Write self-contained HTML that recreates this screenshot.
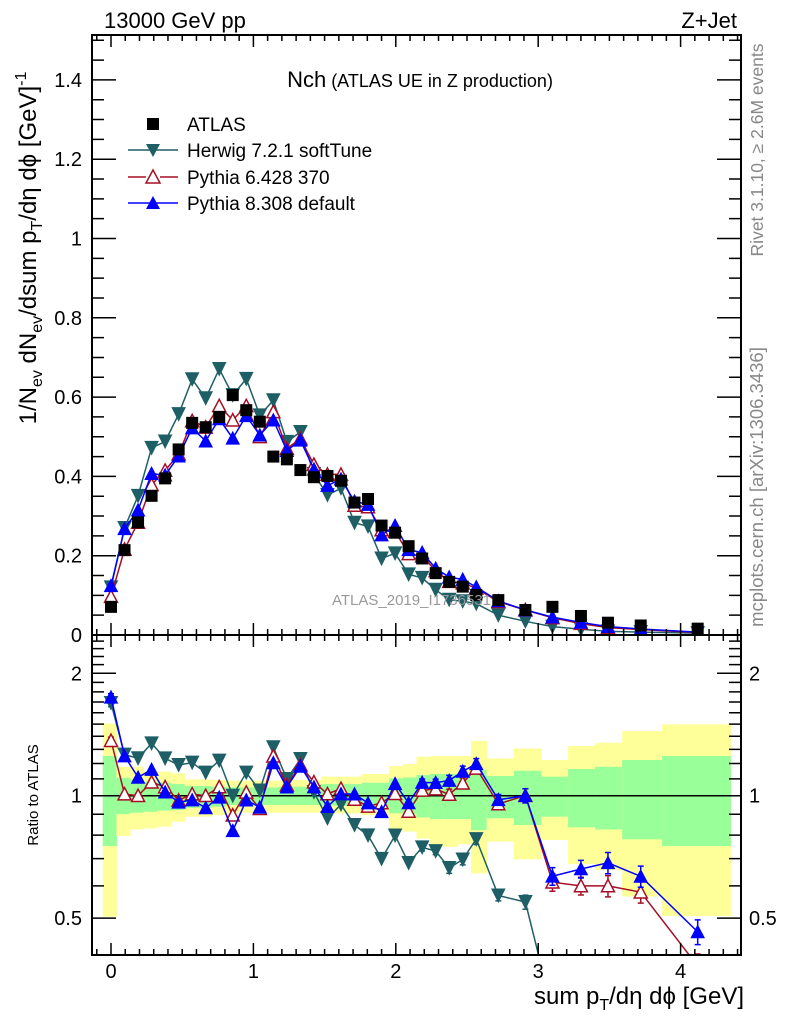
<!DOCTYPE html>
<html><head><meta charset="utf-8"><style>
body{margin:0;background:#fff;}
svg{display:block;font-family:"Liberation Sans",sans-serif;}
</style></head><body>
<svg id="c" width="786" height="1024" viewBox="0 0 786 1024">
<defs>
<clipPath id="cm"><rect x="92" y="35" width="649" height="600"/></clipPath>
<clipPath id="cr"><rect x="92" y="635" width="649" height="320"/></clipPath>
</defs>
<g id="bands" clip-path="url(#cr)"></g>
<g id="mainG" clip-path="url(#cm)"></g>
<g id="ratioG" clip-path="url(#cr)"></g>
<g id="axes"></g>
<text x="104" y="28" font-size="22">13000 GeV pp</text>
<text x="737" y="28" font-size="22" text-anchor="end">Z+Jet</text>
<text x="420" y="87" text-anchor="middle"><tspan font-size="22">Nch</tspan><tspan font-size="18"> (ATLAS UE in Z production)</tspan></text>
<text x="332" y="605" font-size="15" fill="#999">ATLAS_2019_I1736531</text>
<g>
<g><rect x="147" y="118" width="12" height="12" fill="#000"/><text x="187" y="131" font-size="19">ATLAS</text></g>
<g><line x1="128" y1="150" x2="178" y2="150" stroke="#1e5f66" stroke-width="1.5"/><path d="M146,144 L160,144 L153,157 Z" fill="#1e5f66"/><text x="187" y="157" font-size="19">Herwig 7.2.1 softTune</text></g>
<g><line x1="128" y1="177" x2="146" y2="177" stroke="#a50f25" stroke-width="1.5"/><line x1="160" y1="177" x2="178" y2="177" stroke="#a50f25" stroke-width="1.5"/><path d="M153,170 L160,183 L146,183 Z" fill="#fff" stroke="#a50f25" stroke-width="1.5"/><text x="187" y="184" font-size="19">Pythia 6.428 370</text></g>
<g><line x1="128" y1="203" x2="178" y2="203" stroke="#0000ff" stroke-width="1.5"/><path d="M153,196 L160,209 L146,209 Z" fill="#0000ff"/><text x="187" y="210" font-size="19">Pythia 8.308 default</text></g>
</g>
<text transform="translate(36,248) rotate(-90)" text-anchor="middle" font-size="24">1/N<tspan font-size="16" dy="6">ev</tspan><tspan dy="-6"> dN</tspan><tspan font-size="16" dy="6">ev</tspan><tspan dy="-6">/dsum p</tspan><tspan font-size="16" dy="6">T</tspan><tspan dy="-6">/dη dϕ  [GeV]</tspan><tspan font-size="16" dy="-10">-1</tspan></text>
<text transform="translate(38,795) rotate(-90)" text-anchor="middle" font-size="15">Ratio to ATLAS</text>
<text x="744" y="1004" text-anchor="end" font-size="24">sum p<tspan font-size="16" dy="6">T</tspan><tspan dy="-6">/dη dϕ [GeV]</tspan></text>
<text transform="translate(763,150) rotate(-90)" text-anchor="middle" font-size="17.5" fill="#888">Rivet 3.1.10, ≥ 2.6M events</text>
<text transform="translate(763,487) rotate(-90)" text-anchor="middle" font-size="18.5" fill="#888">mcplots.cern.ch [arXiv:1306.3436]</text>
</svg>
<script>
const xVals=[0,0.095,0.19,0.285,0.38,0.475,0.57,0.665,0.76,0.855,0.95,1.045,1.14,1.235,1.33,1.425,1.52,1.615,1.71,1.805,1.9,1.995,2.09,2.185,2.28,2.375,2.47,2.565,2.72,2.91,3.10,3.30,3.49,3.72,4.12];
const atlasVals=[0.071,0.214,0.284,0.351,0.395,0.468,0.535,0.524,0.55,0.605,0.567,0.538,0.45,0.443,0.416,0.398,0.401,0.389,0.334,0.343,0.276,0.258,0.224,0.193,0.156,0.134,0.122,0.101,0.088,0.063,0.071,0.048,0.031,0.024,0.016];
const herwigVals=[0.120,0.270,0.351,0.472,0.488,0.557,0.645,0.597,0.671,0.605,0.646,0.554,0.592,0.487,0.512,0.406,0.353,0.370,0.283,0.274,0.193,0.206,0.153,0.144,0.114,0.089,0.085,0.079,0.050,0.0345,0.021,0.0144,0.0093,0.0072,0.0048];
const pythia6Vals=[0.097,0.216,0.284,0.379,0.415,0.456,0.540,0.524,0.578,0.542,0.578,0.500,0.563,0.470,0.495,0.430,0.405,0.405,0.327,0.323,0.265,0.261,0.205,0.199,0.162,0.135,0.131,0.118,0.084,0.063,0.0435,0.0288,0.0186,0.0139,0.0061];
const pythia8Vals=[0.124,0.268,0.315,0.407,0.403,0.451,0.522,0.489,0.545,0.496,0.553,0.504,0.542,0.465,0.491,0.418,0.377,0.393,0.337,0.329,0.252,0.276,0.215,0.208,0.168,0.146,0.140,0.121,0.086,0.063,0.045,0.0317,0.0212,0.0152,0.0074];
const relErr=[0.02,0.01,0.01,0.01,0.01,0.01,0.01,0.01,0.01,0.01,0.01,0.01,0.01,0.01,0.01,0.01,0.01,0.01,0.01,0.01,0.01,0.01,0.01,0.02,0.02,0.03,0.03,0.03,0.03,0.04,0.05,0.05,0.06,0.06,0.07];
const binEdges=[-0.058,0.038,0.134,0.229,0.325,0.421,0.517,0.613,0.708,0.804,0.9,0.996,1.092,1.187,1.283,1.379,1.475,1.571,1.666,1.762,1.858,1.954,2.050,2.145,2.241,2.337,2.433,2.528,2.638,2.83,3.02,3.21,3.40,3.59,3.87,4.35];
const yellowHi=[1.506,1.178,1.178,1.146,1.146,1.135,1.097,1.097,1.093,1.089,1.089,1.089,1.089,1.093,1.093,1.093,1.114,1.114,1.114,1.131,1.131,1.183,1.196,1.247,1.252,1.252,1.252,1.363,1.235,1.307,1.224,1.325,1.350,1.442,1.498];
const yellowLo=[0.504,0.796,0.826,0.831,0.839,0.863,0.888,0.888,0.896,0.905,0.908,0.908,0.908,0.908,0.908,0.908,0.905,0.905,0.905,0.896,0.896,0.823,0.816,0.785,0.749,0.749,0.760,0.644,0.771,0.697,0.778,0.679,0.656,0.565,0.506];
const greenHi=[1.252,1.107,1.097,1.082,1.076,1.068,1.056,1.056,1.052,1.048,1.048,1.048,1.048,1.052,1.052,1.052,1.068,1.068,1.068,1.076,1.076,1.103,1.109,1.124,1.131,1.131,1.131,1.157,1.118,1.152,1.114,1.163,1.178,1.224,1.252];
const greenLo=[0.752,0.901,0.908,0.913,0.919,0.922,0.934,0.934,0.940,0.949,0.949,0.949,0.949,0.949,0.949,0.949,0.945,0.945,0.945,0.940,0.940,0.905,0.901,0.884,0.876,0.876,0.876,0.823,0.880,0.847,0.888,0.836,0.826,0.781,0.752];
const mainTicks=["0","0.2","0.4","0.6","0.8","1","1.2","1.4"];
const ratioTicks=["0.5","1","2"];
const xTicks=["0","1","2","3","4"];

const NS="http://www.w3.org/2000/svg";
function X(v){return 111+142.4*v;}
function YM(v){return 635-396.5*v;}
function YR(r){return 795.7-406.6*Math.log10(r);}
function mk(tag,attrs,parent){const e=document.createElementNS(NS,tag);for(const k in attrs)e.setAttribute(k,attrs[k]);parent.appendChild(e);return e;}
const axes=document.getElementById('axes'),bands=document.getElementById('bands'),mainG=document.getElementById('mainG'),ratioG=document.getElementById('ratioG');

for(let i=0;i<yellowHi.length;i++){
  const x1=X(binEdges[i]),x2=X(binEdges[i+1]);
  const y=mk('rect',{x:x1,y:YR(yellowHi[i]),width:x2-x1+0.5,height:YR(yellowLo[i])-YR(yellowHi[i]),fill:'#ffff99'},bands);
  
  
  const g=mk('rect',{x:x1,y:YR(greenHi[i]),width:x2-x1+0.5,height:YR(greenLo[i])-YR(greenHi[i]),fill:'#99ff99'},bands);
  
  
}
const one=mk('line',{x1:92,x2:741,y1:YR(1),y2:YR(1),stroke:'#000','stroke-width':1.5},ratioG);



function tri(cx,cy,down,fill,stroke){
  const s=6.5;
  const d=down?`M${cx-s},${cy-s} L${cx+s},${cy-s} L${cx},${cy+s} Z`:`M${cx},${cy-s} L${cx+s},${cy+s*0.9} L${cx-s},${cy+s*0.9} Z`;
  return {d:d,fill:fill,stroke:stroke};
}
const series=[
 {name:'herwig',vals:herwigVals,color:'#1e5f66',down:true,open:false},
 {name:'pythia6',vals:pythia6Vals,color:'#a50f25',down:false,open:true},
 {name:'pythia8',vals:pythia8Vals,color:'#0000ff',down:false,open:false}
];
series.forEach(s=>{
  const pm=s.vals.map((v,i)=>X(xVals[i])+','+YM(v)).join(' ');
  const l=mk('polyline',{points:pm,fill:'none',stroke:s.color,'stroke-width':1.5},mainG);
  
  
  const pr=s.vals.map((v,i)=>X(xVals[i])+','+YR(v/atlasVals[i])).join(' ');
  const lr=mk('polyline',{points:pr,fill:'none',stroke:s.color,'stroke-width':1.5},ratioG);
  
  
  s.vals.forEach((v,i)=>{
    const cx=X(xVals[i]);
    const t=tri(cx,YM(v),s.down,s.open?'#fff':s.color,s.color);
    const m=mk('path',{d:t.d,fill:t.fill,stroke:t.stroke,'stroke-width':s.open?1.5:1},mainG);
    
    
    const r=v/atlasVals[i],ry=YR(r);
    if(relErr[i]>0.015){
      const e1=YR(r*(1+relErr[i])),e2=YR(r*(1-relErr[i]));
      const eb=mk('path',{d:`M${cx},${e1} L${cx},${e2} M${cx-3},${e1} L${cx+3},${e1} M${cx-3},${e2} L${cx+3},${e2}`,stroke:s.color,'stroke-width':1.5,fill:'none'},ratioG);
      
      
    }
    const t2=tri(cx,ry,s.down,s.open?'#fff':s.color,s.color);
    const m2=mk('path',{d:t2.d,fill:t2.fill,stroke:t2.stroke,'stroke-width':s.open?1.5:1},ratioG);
    
    
  });
});
atlasVals.forEach((v,i)=>{
  const r=mk('rect',{x:X(xVals[i])-6,y:YM(v)-6,width:12,height:12,fill:'#000'},mainG);
  
  
});

[[35,600],[635,320]].forEach(f=>{
  const fr=mk('rect',{x:92,y:f[0],width:649,height:f[1],fill:'none',stroke:'#000','stroke-width':2},axes);
  
  
});
let td='';
for(let k=-1;k<=44;k++){
  const v=k/10,x=X(v); if(x<93||x>740)continue;
  const L=(k%10===0)?12:6;
  td+=`M${x},635 L${x},${635-L} M${x},35 L${x},${35+L} M${x},955 L${x},${955-L} M${x},635 L${x},${635+L} `;
}
for(let k=0;k<=30;k++){
  const v=k*0.05,y=YM(v); if(y<36)continue;
  const L=(k%4===0)?24:12;
  td+=`M92,${y} L${92+L},${y} M741,${y} L${741-L},${y} `;
}
for(let k=4;k<=24;k++){
  const r=k/10,y=YR(r); if(y<636||y>954)continue;
  const L=(k===5||k===10||k===20)?24:12;
  td+=`M92,${y} L${92+L},${y} M741,${y} L${741-L},${y} `;
}
const tk=mk('path',{d:td,stroke:'#000','stroke-width':1.5,fill:'none'},axes);


mainTicks.forEach(s=>{
  const t=mk('text',{x:82,y:YM(parseFloat(s))+7,'font-size':20,'text-anchor':'end'},axes);
  t.textContent=s;
  
  
});
ratioTicks.forEach(s=>{
  const y=YR(parseFloat(s))+7;
  const t=mk('text',{x:82,y:y,'font-size':20,'text-anchor':'end'},axes);
  t.textContent=s;
  
  
  const t2=mk('text',{x:749,y:y,'font-size':20},axes);
  t2.textContent=s;
  
  
});
xTicks.forEach(s=>{
  const t=mk('text',{x:X(parseFloat(s)),y:978,'font-size':20,'text-anchor':'middle'},axes);
  t.textContent=s;
  
  
});
</script>
</body></html>
